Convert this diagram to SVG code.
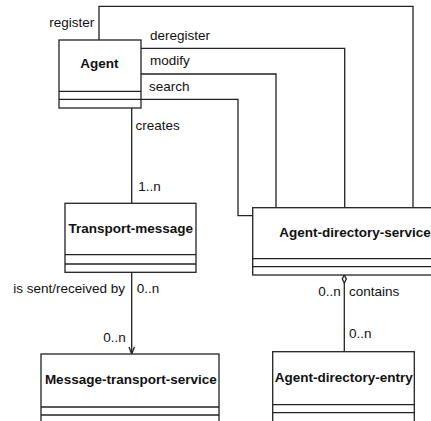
<svg xmlns="http://www.w3.org/2000/svg" width="431" height="421" viewBox="0 0 431 421">
<style>
.box{fill:#fff;stroke:#222;stroke-width:1.3}
.ln{fill:none;stroke:#222;stroke-width:1.3}
.t{font-family:"Liberation Sans",Arial,sans-serif;font-size:13.5px;fill:#111}
.b{font-family:"Liberation Sans",Arial,sans-serif;font-size:13.5px;font-weight:bold;fill:#111}
</style>
<rect width="431" height="421" fill="#fff"/>
<g id="connectors">
<polyline class="ln" points="99,40 99,6.3 413,6.3 413,207.7"/>
<polyline class="ln" points="141,48.3 344.7,48.3 344.7,207.7"/>
<polyline class="ln" points="141,74 276,74 276,207.7"/>
<polyline class="ln" points="141,99.3 238,99.3 238,215.7 252.7,215.7"/>
<line class="ln" x1="131.7" y1="108" x2="131.7" y2="203.3"/>
<line class="ln" x1="131.7" y1="272.3" x2="131.7" y2="354"/>
<polyline class="ln" points="129,347 131.7,354 134.4,347"/>
<line class="ln" x1="344.3" y1="283" x2="344.3" y2="351.7"/>
<polygon class="ln" points="344.3,275 346.3,279 344.3,283 342.3,279"/>
<text class="t" x="49.3" y="26.5">register</text>
<text class="t" x="150" y="39.5">deregister</text>
<text class="t" x="150" y="65">modify</text>
<text class="t" x="149" y="90.5">search</text>
<text class="t" x="135.5" y="129.5">creates</text>
<text class="t" x="138.3" y="190.5">1..n</text>
<text class="t" x="125" y="292.7" text-anchor="end">is sent/received by</text>
<text class="t" x="136.7" y="292.7">0..n</text>
<text class="t" x="103.3" y="341.7">0..n</text>
<text class="t" x="318.3" y="296">0..n</text>
<text class="t" x="349" y="296">contains</text>
<text class="t" x="349" y="338.3">0..n</text>
</g>
<g id="agent">
<rect class="box" x="59" y="40" width="82" height="68"/>
<line class="ln" x1="59" y1="91.3" x2="141" y2="91.3"/>
<line class="ln" x1="59" y1="99.3" x2="141" y2="99.3"/>
<text class="b" x="99.3" y="68.3" text-anchor="middle">Agent</text>
</g>
<g id="transport-message">
<rect class="box" x="65" y="203.3" width="131" height="69"/>
<line class="ln" x1="65" y1="254.7" x2="196" y2="254.7"/>
<line class="ln" x1="65" y1="264" x2="196" y2="264"/>
<text class="b" x="130.8" y="233.3" text-anchor="middle">Transport-message</text>
</g>
<g id="agent-directory-service">
<rect class="box" x="252.7" y="207.7" width="200" height="67.3"/>
<line class="ln" x1="252.7" y1="258.7" x2="452.7" y2="258.7"/>
<line class="ln" x1="252.7" y1="266.7" x2="452.7" y2="266.7"/>
<text class="b" x="279.3" y="237.3">Agent-directory-service</text>
</g>
<g id="message-transport-service">
<rect class="box" x="41" y="354" width="178" height="80"/>
<line class="ln" x1="41" y1="407" x2="219" y2="407"/>
<line class="ln" x1="41" y1="415" x2="219" y2="415"/>
<text class="b" x="130.8" y="384" text-anchor="middle">Message-transport-service</text>
</g>
<g id="agent-directory-entry">
<rect class="box" x="272.7" y="351.7" width="141.6" height="80"/>
<line class="ln" x1="272.7" y1="404.7" x2="414.3" y2="404.7"/>
<line class="ln" x1="272.7" y1="412.7" x2="414.3" y2="412.7"/>
<text class="b" x="343.7" y="381.7" text-anchor="middle">Agent-directory-entry</text>
</g>
</svg>
